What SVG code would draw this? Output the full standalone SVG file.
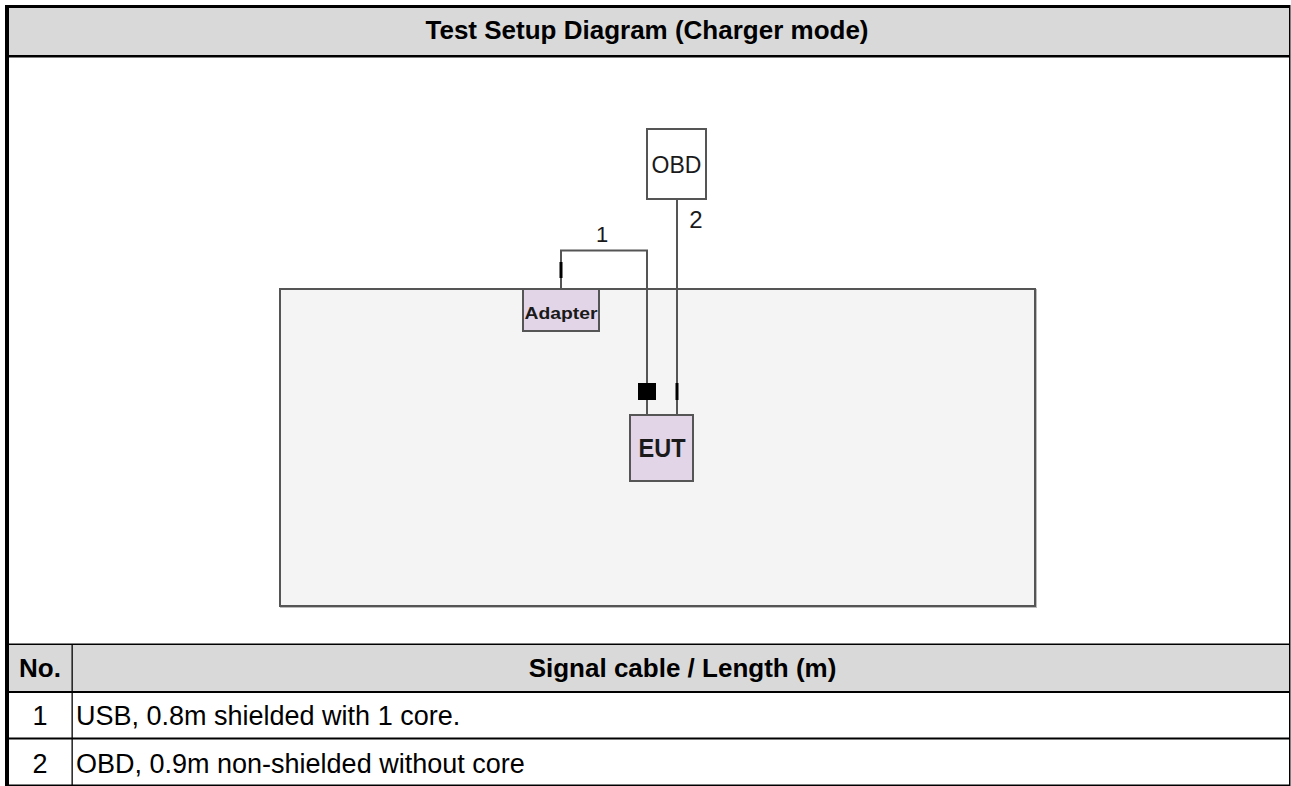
<svg xmlns="http://www.w3.org/2000/svg" width="1291" height="786" viewBox="0 0 1291 786">
<style>
.t{font-family:"Liberation Sans",Arial,sans-serif;fill:#000}
.b{font-weight:bold}
.d{font-family:"Liberation Sans",Arial,sans-serif;fill:#1a1a1a}
.wire{stroke:#555;stroke-width:2;fill:none}
.box{stroke:#555;stroke-width:2}
.mark{fill:#000}
</style>
<rect width="1291" height="786" fill="#fff"/>
<g id="frame">
  <rect x="9" y="8" width="1280" height="47" fill="#d9d9d9"/>
  <rect x="9" y="645" width="1280" height="46" fill="#d9d9d9"/>
  <rect x="5" y="5" width="1285" height="3" fill="#000"/>
  <rect x="5" y="5" width="4" height="781" fill="#000"/>
  <rect x="1289" y="5" width="1.5" height="781" fill="#000"/>
  <rect x="9" y="55" width="1281" height="2.5" fill="#000"/>
  <rect x="9" y="643.5" width="1281" height="1.5" fill="#000"/>
  <rect x="9" y="691" width="1281" height="2" fill="#000"/>
  <rect x="9" y="737.5" width="1281" height="2" fill="#000"/>
  <rect x="9" y="784.5" width="1281" height="1.5" fill="#000"/>
  <rect x="71.5" y="644" width="1.3" height="142" fill="#000"/>
  <text class="t b" x="647" y="39" font-size="26" text-anchor="middle">Test Setup Diagram (Charger mode)</text>
  <text class="t b" x="19" y="677" font-size="26">No.</text>
  <text class="t b" x="682.5" y="677" font-size="26" text-anchor="middle">Signal cable / Length (m)</text>
  <text class="t" x="40" y="725" font-size="27" text-anchor="middle">1</text>
  <text class="t" x="76" y="725" font-size="27">USB, 0.8m shielded with 1 core.</text>
  <text class="t" x="40" y="772.5" font-size="27" text-anchor="middle">2</text>
  <text class="t" x="76" y="772.5" font-size="27">OBD, 0.9m non-shielded without core</text>
</g>
<g id="table-area">
  <rect x="281" y="290" width="755" height="317" fill="none" stroke="#bbb" stroke-width="2"/>
  <rect x="280" y="289" width="755" height="317" fill="#f4f4f4" stroke="#555" stroke-width="2"/>
</g>
<g id="connectors">
  <path class="wire" d="M561,289 V250.5 H647 V415"/>
  <path class="wire" d="M677,199 V415"/>
  <rect class="mark" x="559.5" y="262" width="3" height="16"/>
  <rect class="mark" x="638" y="383" width="18" height="17"/>
  <rect class="mark" x="675.5" y="383" width="3" height="17"/>
  <text class="d" x="602" y="241.5" font-size="22" text-anchor="middle">1</text>
  <text class="d" x="696" y="228" font-size="24" text-anchor="middle">2</text>
</g>
<g id="obd">
  <rect class="box" x="647" y="129" width="59" height="70" fill="#fff"/>
  <text class="d" x="676.5" y="173" font-size="23" text-anchor="middle">OBD</text>
</g>
<g id="adapter">
  <rect class="box" x="523" y="289" width="76" height="42" fill="#e1d5e7"/>
  <text class="d b" x="561" y="319" font-size="16" text-anchor="middle" textLength="73" lengthAdjust="spacingAndGlyphs">Adapter</text>
</g>
<g id="eut">
  <rect class="box" x="630" y="415" width="63" height="66" fill="#e1d5e7"/>
  <text class="d b" x="662" y="456.5" font-size="25" text-anchor="middle" textLength="47" lengthAdjust="spacingAndGlyphs">EUT</text>
</g>
</svg>
